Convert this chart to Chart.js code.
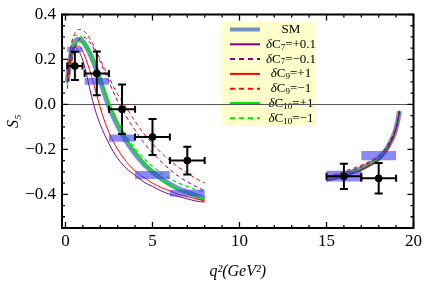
<!DOCTYPE html>
<html>
<head>
<meta charset="utf-8">
<script src="https://cdn.jsdelivr.net/npm/chart.js@4.4.0/dist/chart.umd.min.js"></script>
<style>
  html, body { margin: 0; padding: 0; background: #fff; }
  #wrap { width: 427px; height: 283px; }
</style>
</head>
<body>
<div id="wrap"><canvas id="s5Chart"></canvas></div>
<script>
// q^2 grids for the two kinematic windows
let q2Low = [0.1, 0.3, 0.5, 0.75, 1.0, 1.25, 1.5, 1.75, 2.0, 2.25, 2.5, 2.75, 3.0, 3.5, 4.0, 4.5, 5.0, 5.5, 6.0, 6.5, 7.0, 7.5, 8.0];
let q2High = [15, 15.5, 16, 16.5, 17, 17.5, 18, 18.4, 18.7, 18.9, 19.05, 19.2];

// S5 curves
let smLow = [0.10, 0.215, 0.27, 0.29, 0.28, 0.25, 0.21, 0.16, 0.105, 0.045, -0.01, -0.055, -0.095, -0.165, -0.22, -0.265, -0.30, -0.33, -0.355, -0.375, -0.39, -0.405, -0.42];
let smHigh = [-0.333, -0.324, -0.313, -0.300, -0.285, -0.265, -0.24, -0.205, -0.165, -0.13, -0.09, -0.03];

let c7pLow = [0.13, 0.22, 0.255, 0.24, 0.195, 0.12, 0.035, -0.035, -0.09, -0.135, -0.175, -0.21, -0.24, -0.285, -0.315, -0.345, -0.365, -0.385, -0.40, -0.41, -0.42, -0.43, -0.435];
let c7pHigh = [-0.34, -0.331, -0.32, -0.307, -0.292, -0.272, -0.247, -0.212, -0.17, -0.134, -0.094, -0.032];

let c7mLow = [0.07, 0.17, 0.24, 0.285, 0.30, 0.29, 0.265, 0.23, 0.19, 0.145, 0.10, 0.055, 0.015, -0.055, -0.115, -0.17, -0.215, -0.255, -0.29, -0.32, -0.345, -0.365, -0.385];
let c7mHigh = [-0.326, -0.317, -0.306, -0.293, -0.278, -0.259, -0.234, -0.20, -0.161, -0.127, -0.088, -0.029];

let c9pLow = [0.10, 0.20, 0.25, 0.26, 0.235, 0.185, 0.125, 0.055, -0.015, -0.075, -0.125, -0.165, -0.20, -0.255, -0.295, -0.325, -0.35, -0.37, -0.385, -0.40, -0.41, -0.42, -0.43];
let c9pHigh = [-0.338, -0.329, -0.318, -0.305, -0.29, -0.27, -0.245, -0.21, -0.169, -0.133, -0.093, -0.032];

let c9mLow = [0.12, 0.25, 0.31, 0.333, 0.33, 0.31, 0.28, 0.24, 0.20, 0.16, 0.12, 0.08, 0.045, -0.015, -0.075, -0.13, -0.175, -0.215, -0.25, -0.28, -0.305, -0.33, -0.35];
let c9mHigh = [-0.32, -0.31, -0.298, -0.285, -0.27, -0.252, -0.228, -0.195, -0.157, -0.123, -0.085, -0.028];

let c10pLow = [0.09, 0.20, 0.26, 0.28, 0.275, 0.25, 0.215, 0.17, 0.12, 0.06, 0.005, -0.04, -0.085, -0.155, -0.21, -0.26, -0.30, -0.335, -0.36, -0.38, -0.395, -0.41, -0.425];
let c10pHigh = [-0.336, -0.327, -0.316, -0.303, -0.288, -0.268, -0.243, -0.208, -0.167, -0.132, -0.092, -0.031];

let c10mLow = [0.12, 0.25, 0.305, 0.31, 0.29, 0.255, 0.21, 0.16, 0.11, 0.06, 0.01, -0.035, -0.075, -0.14, -0.195, -0.24, -0.275, -0.305, -0.33, -0.35, -0.365, -0.38, -0.39];
let c10mHigh = [-0.328, -0.319, -0.308, -0.295, -0.28, -0.261, -0.236, -0.202, -0.163, -0.128, -0.089, -0.03];

// binned SM predictions and measurements
let binLo = [0.1, 1.1, 2.5, 4, 6, 15, 17];
let binHi = [0.98, 2.5, 4, 6, 8, 17, 19];
let binSM = [0.244, 0.102, -0.15, -0.314, -0.395, -0.319, -0.228];
let binSMErr = [0.012, 0.015, 0.016, 0.018, 0.015, 0.024, 0.021];
let dataS5 = [0.171, 0.138, -0.022, -0.145, -0.25, -0.32, -0.329];
let dataS5Err = [0.063, 0.097, 0.11, 0.08, 0.062, 0.056, 0.068];

let xTicks = [0, 5, 10, 15, 20];
let yTicks = [-0.4, -0.2, 0, 0.2, 0.4];

let serif = "'Liberation Serif', 'DejaVu Serif', serif";

function curve(lo, hi) {
  let pts = q2Low.map((x, i) => ({x: x, y: lo[i]}));
  pts.push({x: 8.0, y: null});
  return pts.concat(q2High.map((x, i) => ({x: x, y: hi[i]})));
}

let curves = [
  {label: "δC_7=+0.1", lo: c7pLow, hi: c7pHigh, color: "#800080", width: 1, dash: []},
  {label: "δC_7=−0.1", lo: c7mLow, hi: c7mHigh, color: "#800080", width: 1, dash: [4, 3]},
  {label: "δC_9=+1", lo: c9pLow, hi: c9pHigh, color: "#ff0000", width: 1, dash: []},
  {label: "δC_9=−1", lo: c9mLow, hi: c9mHigh, color: "#ff0000", width: 1, dash: [4, 3]},
  {label: "δC_10=+1", lo: c10pLow, hi: c10pHigh, color: "#00e600", width: 1.8, dash: []},
  {label: "δC_10=−1", lo: c10mLow, hi: c10mHigh, color: "#00e600", width: 1.2, dash: [4, 3]}
];
let smStyle = {label: "SM", lo: smLow, hi: smHigh, color: "rgba(70,110,190,0.75)", width: 5, dash: []};

let datasets = [];
datasets.push({
  type: "line", label: "SM", data: curve(smLow, smHigh),
  borderColor: smStyle.color, borderWidth: smStyle.width, pointRadius: 0,
  cubicInterpolationMode: "monotone", order: 10
});
curves.forEach(c => datasets.push({
  type: "line", label: c.label, data: curve(c.lo, c.hi),
  borderColor: c.color, borderWidth: c.width, borderDash: c.dash, pointRadius: 0,
  cubicInterpolationMode: "monotone", order: 5
}));

// SM bins as thick flat segments, thickness = 2*err in y units
binLo.forEach((lo, i) => datasets.push({
  type: "line", label: "bin", err: binSMErr[i],
  data: [{x: lo, y: binSM[i]}, {x: binHi[i], y: binSM[i]}],
  borderColor: "rgba(60,60,240,0.6)",
  borderWidth: (c) => {
    let s = c.chart.scales.y;
    if (!s) return 6;
    return Math.abs(s.getPixelForValue(0) - s.getPixelForValue(2 * c.dataset.err));
  },
  borderCapStyle: "butt", pointRadius: 0, order: 3
}));

// error bars
let ySeg = [], xSeg = [], pts = [];
dataS5.forEach((v, i) => {
  let xc = (binLo[i] + binHi[i]) / 2;
  ySeg.push({x: xc, y: v - dataS5Err[i]}, {x: xc, y: v + dataS5Err[i]}, {x: xc, y: null});
  xSeg.push({x: binLo[i], y: v}, {x: binHi[i], y: v}, {x: binHi[i], y: null});
  pts.push({x: xc, y: v});
});
datasets.push({
  type: "line", label: "ey", data: ySeg, borderColor: "#000", borderWidth: 2,
  pointStyle: "line", pointRadius: 4, pointBorderWidth: 2, pointBorderColor: "#000", order: 1
});
datasets.push({
  type: "line", label: "ex", data: xSeg, borderColor: "#000", borderWidth: 2,
  pointStyle: "line", pointRotation: 90, pointRadius: 3.5, pointBorderWidth: 2, pointBorderColor: "#000", order: 1
});
datasets.push({
  type: "line", label: "data", data: pts, showLine: false,
  pointRadius: 3.5, pointBackgroundColor: "#000", pointBorderColor: "#000", order: 0
});

function richText(ctx, str, cx, cy) {
  let m = str.match(/^δ(.*?)_(\d+)(.*)$/);
  let parts = m
    ? [["δ", "italic 13px " + serif, 0], [m[1], "13px " + serif, 0], [m[2], "9px " + serif, 3], [m[3], "13px " + serif, 0]]
    : [[str, "13px " + serif, 0]];
  let total = 0;
  parts.forEach(p => { ctx.font = p[1]; total += ctx.measureText(p[0]).width; });
  let x = cx - total / 2;
  parts.forEach(p => {
    ctx.font = p[1];
    ctx.fillText(p[0], x, cy + p[2]);
    x += ctx.measureText(p[0]).width;
  });
}

const legendBox = {
  id: "legendBox",
  beforeDraw(chart) {
    let ctx = chart.ctx;
    let bx = 221, by = 22, bw = 95, bh = 104;
    ctx.save();
    ctx.fillStyle = "#ffffcc";
    ctx.fillRect(bx, by, bw, bh);
    let rows = [smStyle].concat(curves);
    rows.forEach((r, i) => {
      let y = 29.5 + i * 14.8;
      ctx.beginPath();
      ctx.setLineDash(r.dash.length ? [5, 4] : []);
      ctx.strokeStyle = r.color;
      ctx.lineWidth = r.label === "SM" ? 4 : (r.width < 1.5 ? 2 : 3);
      ctx.moveTo(230, y);
      ctx.lineTo(260, y);
      ctx.stroke();
      ctx.setLineDash([]);
      ctx.fillStyle = "#000";
      ctx.textBaseline = "middle";
      richText(ctx, r.label, 291, y);
    });
    ctx.restore();
  }
};

const framePlugin = {
  id: "frame",
  afterDraw(chart) {
    let {ctx, chartArea: a, scales: {x, y}} = chart;
    ctx.save();
    ctx.strokeStyle = "#000";
    ctx.lineWidth = 1.3;
    ctx.beginPath();
    for (let v = 0; v <= 20; v++) {
      let px = x.getPixelForValue(v), len = v % 5 === 0 ? 6 : 3;
      ctx.moveTo(px, a.bottom); ctx.lineTo(px, a.bottom - len);
      ctx.moveTo(px, a.top); ctx.lineTo(px, a.top + len);
    }
    for (let k = -11; k <= 8; k++) {
      let py = y.getPixelForValue(k * 0.05), len = k % 4 === 0 ? 6 : 3;
      ctx.moveTo(a.left, py); ctx.lineTo(a.left + len, py);
      ctx.moveTo(a.right, py); ctx.lineTo(a.right - len, py);
    }
    ctx.stroke();
    ctx.lineWidth = 2;
    ctx.strokeRect(a.left, a.top, a.right - a.left, a.bottom - a.top);
    ctx.restore();
  }
};

let myChart = new Chart(document.getElementById("s5Chart").getContext("2d"), {
  data: {datasets: datasets},
  plugins: [legendBox, framePlugin],
  options: {
    responsive: true,
    maintainAspectRatio: false,
    animation: false,
    events: [],
    spanGaps: false,
    layout: {padding: {top: 9, right: 9, left: 0, bottom: 0}},
    plugins: {legend: {display: false}, tooltip: {enabled: false}},
    scales: {
      x: {
        type: "linear",
        min: -0.2,
        max: 20,
        afterBuildTicks: (s) => { s.ticks = xTicks.map(v => ({value: v})); },
        afterFit: (s) => { s.height = 55; },
        grid: {display: false, drawTicks: false},
        border: {display: false},
        ticks: {font: {family: serif, size: 17, lineHeight: 1}, color: "#000", padding: 5, maxRotation: 0, autoSkip: false},
        title: {display: true, text: "q²(GeV²)", color: "#000", font: {family: serif, size: 16, style: "italic"}, padding: {top: 0, bottom: 2}}
      },
      y: {
        type: "linear",
        min: -0.55,
        max: 0.4,
        afterBuildTicks: (s) => { s.ticks = yTicks.map(v => ({value: v})); },
        afterFit: (s) => { s.width = 62; },
        grid: {
          drawTicks: false,
          lineWidth: 1,
          color: (c) => (c.tick && Math.abs(c.tick.value) < 1e-9 ? "#555" : "rgba(0,0,0,0)")
        },
        border: {display: false},
        ticks: {
          font: {family: serif, size: 17, lineHeight: 1}, color: "#000", padding: 6,
          callback: (v) => (v < -1e-9 ? "−" : "") + Math.abs(v).toFixed(1)
        },
        title: {display: true, text: "S₅", color: "#000", font: {family: serif, size: 16, style: "italic"}, padding: {top: 4, bottom: 0}}
      }
    }
  }
});
</script>
</body>
</html>
